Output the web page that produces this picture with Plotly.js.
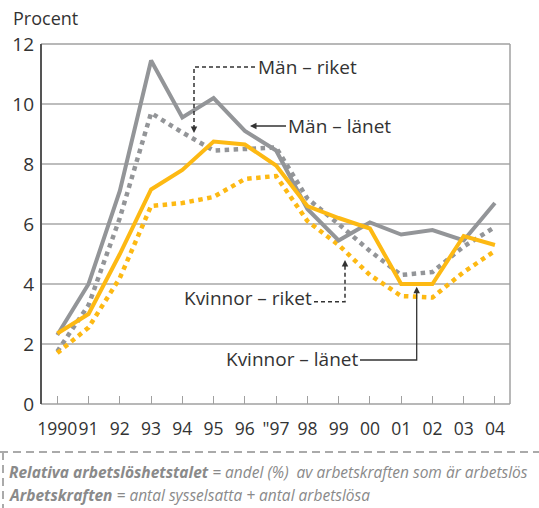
<!DOCTYPE html>
<html>
<head>
<meta charset="utf-8">
<script src="https://cdn.plot.ly/plotly-3.0.1.min.js"></script>
<style>html,body{margin:0;padding:0;background:#fff;}#chart{width:539px;height:508px;}</style>
</head>
<body>
<div id="chart"></div>
<script>
// ---- data ----
const years = [1990,1991,1992,1993,1994,1995,1996,1997,1998,1999,2000,2001,2002,2003,2004];
const tickLabels = ["1990","91","92","93","94","95","96","\"97","98","99","00","01","02","03","04"];
const manLanet    = [2.3, 4.0, 7.1, 11.45, 9.55, 10.2, 9.1, 8.45, 6.5, 5.45, 6.05, 5.65, 5.8, 5.45, 6.7];
const manRiket    = [1.75, 3.3, 6.2, 9.7, 9.05, 8.45, 8.5, 8.55, 6.85, 6.0, 5.1, 4.3, 4.4, 5.25, 5.9];
const kvinnorLanet= [2.35, 3.0, 5.0, 7.15, 7.8, 8.75, 8.65, 7.95, 6.6, 6.2, 5.85, 4.0, 4.0, 5.6, 5.3];
const kvinnorRiket= [1.7, 2.55, 4.2, 6.6, 6.7, 6.9, 7.5, 7.6, 6.1, 5.3, 4.3, 3.6, 3.55, 4.4, 5.1];
const yTicks = [0,2,4,6,8,10,12];

const GRAY = '#939598', YEL = '#FDB913', TXT = '#333333';
const FONT = 'Open Sans, Noto Sans, sans-serif';

const traces = [
  {x: years, y: manRiket, mode:'lines', line:{color:GRAY, width:4.5, dash:'4.5px,4.5px'}, name:'Män – riket'},
  {x: years, y: kvinnorRiket, mode:'lines', line:{color:YEL, width:4.5, dash:'4.5px,4.5px'}, name:'Kvinnor – riket'},
  {x: years, y: manLanet, mode:'lines', line:{color:GRAY, width:4}, name:'Män – länet'},
  {x: years, y: kvinnorLanet, mode:'lines', line:{color:YEL, width:4}, name:'Kvinnor – länet'}
];

// pixel helpers for annotation placement (plot: x 41..510, y 44..404)
const px = p => 1990 + (p - 57.3) / 31.26;
const py = p => (404 - p) / 30;
const ppx = p => (p - 41) / 469;
const ppy = p => (404 - p) / 360;

const lineStyle = {color: TXT, width: 1.3};
const dashStyle = {color: TXT, width: 1.5, dash: '4px,3px'};

const shapes = [
  // plot border
  {type:'line', xref:'paper', yref:'paper', x0:0, x1:1, y0:1, y1:1, line:{color:'#a0a0a0', width:1.5}},
  {type:'line', xref:'paper', yref:'paper', x0:1, x1:1, y0:0, y1:1, line:{color:'#a0a0a0', width:1.5}},
  {type:'line', xref:'paper', yref:'paper', x0:0, x1:1, y0:0, y1:0, line:{color:'#a0a0a0', width:1.5}},
  {type:'line', xref:'paper', yref:'paper', x0:0, x1:0, y0:0, y1:1, line:{color:'#555555', width:2}},
  // Män – riket connector
  {type:'path', xref:'x', yref:'y', path:`M ${px(255)},${py(67)} L ${px(194)},${py(67)} L ${px(194)},${py(127)}`, line:dashStyle},
  // Kvinnor – riket connector
  {type:'path', xref:'x', yref:'y', path:`M ${px(314)},${py(301.7)} L ${px(345)},${py(301.7)} L ${px(345)},${py(266)}`, line:dashStyle},
  // Kvinnor – länet connector
  {type:'path', xref:'x', yref:'y', path:`M ${px(360)},${py(360)} L ${px(416.7)},${py(360)} L ${px(416.7)},${py(292)}`, line:lineStyle},
  // footer dashed box
  {type:'line', xref:'paper', yref:'paper', x0:ppx(0), x1:ppx(539), y0:ppy(452), y1:ppy(452), line:{color:'#aaaaaa', width:2, dash:'8px,5px'}},
  {type:'line', xref:'paper', yref:'paper', x0:ppx(3), x1:ppx(3), y0:ppy(452), y1:ppy(508), line:{color:'#aaaaaa', width:2, dash:'8px,5px'}}
];

const annFont = {family: FONT, size: 19, color: TXT};
const annotations = [
  {xref:'paper', yref:'paper', x:ppx(11), y:ppy(18), xanchor:'left', yanchor:'middle', text:'Procent', showarrow:false, font:{family:FONT, size:18, color:TXT}},
  {xref:'x', yref:'y', x:px(256), y:py(67), xanchor:'left', yanchor:'middle', text:'Män – riket', showarrow:false, font:annFont},
  {xref:'x', yref:'y', x:px(250), y:py(126), text:'Män – länet', showarrow:true, ax:89, ay:0, arrowhead:2, arrowsize:1, arrowwidth:1.3, arrowcolor:TXT, font:annFont},
  {xref:'x', yref:'y', x:px(314), y:py(298), xanchor:'right', yanchor:'middle', text:'Kvinnor – riket', showarrow:false, font:annFont},
  {xref:'x', yref:'y', x:px(360), y:py(359), xanchor:'right', yanchor:'middle', text:'Kvinnor – länet', showarrow:false, font:annFont},
  // arrow heads
  {xref:'x', yref:'y', x:px(194), y:py(133), text:'', showarrow:true, ax:0, ay:-8, arrowhead:2, arrowsize:1, arrowwidth:1.3, arrowcolor:TXT},
  {xref:'x', yref:'y', x:px(345), y:py(260), text:'', showarrow:true, ax:0, ay:8, arrowhead:2, arrowsize:1, arrowwidth:1.3, arrowcolor:TXT},
  {xref:'x', yref:'y', x:px(416.7), y:py(286.7), text:'', showarrow:true, ax:0, ay:8, arrowhead:2, arrowsize:1, arrowwidth:1.3, arrowcolor:TXT},
  // footer text
  {xref:'paper', yref:'paper', x:ppx(7), y:ppy(472), xanchor:'left', yanchor:'middle', showarrow:false,
   text:'<i><b>Relativa arbetslöshetstalet</b> = andel (%)  av arbetskraften som är arbetslös</i>', font:{family:FONT, size:15.5, color:'#8a8a8a'}},
  {xref:'paper', yref:'paper', x:ppx(7), y:ppy(495), xanchor:'left', yanchor:'middle', showarrow:false,
   text:'<i><b>Arbetskraften</b> = antal sysselsatta + antal arbetslösa</i>', font:{family:FONT, size:15.5, color:'#8a8a8a'}}
];

const layout = {
  width: 539, height: 508,
  margin: {l:41, r:29, t:44, b:104, pad:0},
  paper_bgcolor:'#ffffff', plot_bgcolor:'#ffffff',
  showlegend:false,
  font:{family:FONT, color:TXT},
  xaxis:{
    range:[px(41), px(510)], tickmode:'array', tickvals:years, ticktext:tickLabels,
    ticks:'inside', ticklen:8, tickwidth:1, tickcolor:'#a0a0a0', tickangle:0,
    showgrid:false, zeroline:false, showline:false, ticklabelstandoff:12,
    tickfont:{family:FONT, size:17.5, color:TXT}, fixedrange:true
  },
  yaxis:{
    range:[0,12], tickmode:'array', tickvals:yTicks, ticktext:yTicks.map(String),
    ticks:'', showgrid:true, gridcolor:'#bdbdbd', gridwidth:1.3, zeroline:false, showline:false,
    tickfont:{family:FONT, size:19, color:TXT}, ticklabelstandoff:6, fixedrange:true
  },
  shapes: shapes,
  annotations: annotations
};

Plotly.newPlot('chart', traces, layout, {displayModeBar:false, staticPlot:true});
</script>
</body>
</html>
